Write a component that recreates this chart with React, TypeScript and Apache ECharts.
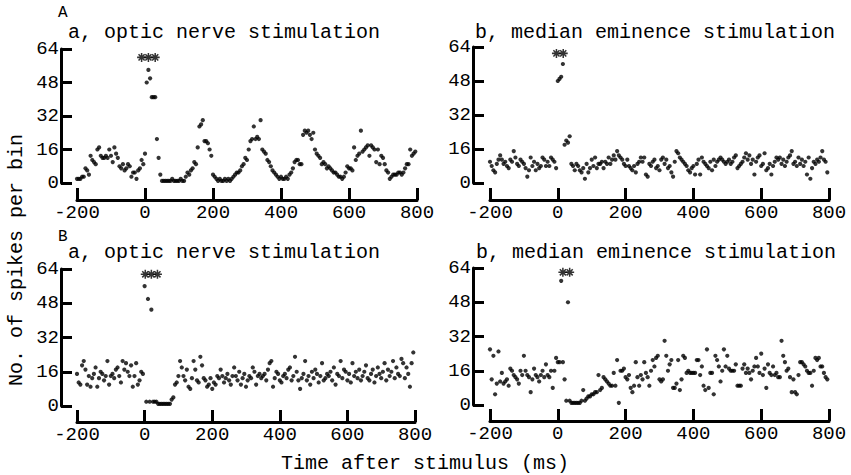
import React, { useEffect, useRef } from "react";
import * as echarts from "echarts";

// ---- data (spikes per 5 ms bin, from -200 ms to 795 ms) ----
const BIN_MS = 5;
const START_MS = -200;
const xTickStep = 200;
const yTickStep = 16;
const xRange = [-200, 800];
const yRange = [0, 64];

const panelTitles = [
  "a, optic nerve stimulation",
  "b, median eminence stimulation",
  "a, optic nerve stimulation",
  "b, median eminence stimulation",
];
const sectionLabels = ["A", "B"];
const yAxisTitle = "No. of spikes per bin";
const xAxisTitle = "Time after stimulus (ms)";

const opticA = [
  2, 2, 2, 3, 3, 7, 6, 4, 13, 11, 10, 9, 16, 17, 13, 12, 12, 13, 12, 16,
  13, 10, 17, 14, 12, 8, 7, 9, 6, 7, 9, 8, 3, 5, 5, 2, 6, 7, 11, 9,
  14, 48, 54, 50, 41, 41, 41, 21, 12, 4, 1, 1, 1, 1, 1, 1, 2, 1, 1, 1,
  1, 2, 1, 1, 3, 5, 4, 6, 7, 10, 9, 17, 27, 28, 30, 20, 20, 19, 16, 13,
  4, 3, 2, 1, 2, 1, 1, 2, 1, 2, 1, 2, 3, 4, 5, 5, 6, 8, 9, 12,
  11, 16, 20, 21, 27, 21, 22, 21, 30, 16, 15, 14, 11, 10, 8, 6, 5, 4, 3, 2,
  3, 2, 2, 3, 2, 4, 5, 7, 10, 11, 11, 9, 9, 23, 25, 24, 25, 23, 21, 24,
  16, 14, 13, 12, 9, 10, 9, 7, 8, 7, 6, 5, 5, 4, 3, 3, 2, 3, 5, 8,
  7, 7, 6, 17, 11, 13, 14, 25, 15, 16, 17, 18, 13, 18, 17, 16, 10, 16, 9, 13,
  12, 9, 6, 5, 2, 3, 4, 4, 4, 5, 5, 4, 5, 7, 9, 9, 16, 13, 14, 15,
];
const medianA = [
  10, 8, 6, 5, 9, 11, 13, 11, 9, 10, 8, 7, 11, 10, 15, 12, 9, 8, 11, 10,
  9, 7, 3, 6, 12, 8, 10, 6, 9, 7, 8, 12, 11, 8, 10, 8, 12, 11, 10, 7,
  48, 49, 50, 56, 18, 20, 19, 22, 9, 8, 6, 9, 8, 6, 5, 7, 2, 9, 5, 7,
  11, 8, 12, 7, 9, 9, 10, 7, 10, 9, 12, 9, 11, 13, 11, 15, 13, 12, 11, 9,
  8, 11, 8, 7, 6, 8, 5, 9, 10, 12, 10, 12, 4, 3, 9, 8, 10, 11, 7, 8,
  6, 11, 12, 9, 11, 7, 8, 5, 3, 10, 15, 14, 12, 11, 10, 9, 8, 6, 5, 7,
  8, 4, 9, 11, 4, 12, 10, 9, 8, 7, 10, 6, 11, 8, 10, 11, 12, 11, 10, 9,
  10, 11, 9, 10, 12, 13, 7, 8, 9, 10, 12, 14, 11, 13, 9, 11, 4, 10, 12, 13,
  8, 9, 14, 6, 7, 9, 4, 8, 10, 12, 11, 12, 9, 11, 8, 10, 12, 13, 15, 9,
  10, 8, 12, 9, 11, 8, 10, 4, 12, 2, 7, 10, 9, 11, 10, 12, 15, 11, 10, 5,
];
const opticB = [
  15, 11, 10, 19, 21, 17, 10, 14, 9, 13, 15, 18, 9, 13, 16, 15, 12, 14, 21, 10,
  14, 15, 13, 17, 18, 14, 11, 21, 17, 20, 16, 14, 19, 9, 14, 20, 10, 12, 16, 15,
  56, 2, 50, 2, 45, 2, 2, 2, 1, 1, 1, 1, 1, 1, 1, 1, 3, 4, 10, 11,
  14, 21, 18, 14, 12, 17, 9, 8, 13, 21, 17, 12, 11, 23, 19, 13, 12, 9, 10, 13,
  8, 11, 10, 14, 13, 17, 14, 11, 13, 15, 12, 10, 14, 18, 14, 12, 16, 10, 13, 15,
  9, 12, 14, 13, 18, 16, 10, 14, 15, 13, 14, 15, 12, 17, 20, 21, 9, 13, 16, 15,
  12, 11, 14, 15, 13, 17, 18, 12, 14, 23, 16, 12, 8, 13, 15, 21, 12, 14, 10, 16,
  13, 17, 15, 11, 14, 20, 12, 13, 15, 14, 16, 12, 18, 10, 15, 14, 21, 13, 17, 16,
  12, 15, 11, 20, 14, 16, 13, 17, 12, 14, 16, 19, 13, 12, 15, 17, 11, 14, 18, 15,
  13, 16, 20, 12, 17, 14, 16, 21, 13, 18, 15, 14, 22, 20, 13, 18, 15, 9, 20, 25,
];
const medianB = [
  26, 12, 23, 5, 10, 25, 11, 15, 10, 11, 12, 9, 17, 16, 14, 13, 12, 10, 16, 14,
  23, 16, 14, 13, 6, 12, 17, 14, 13, 11, 14, 16, 13, 19, 14, 13, 16, 8, 16, 22,
  20, 20, 58, 20, 12, 2, 48, 2, 1, 1, 1, 1, 1, 1, 2, 7, 2, 3, 4, 4,
  5, 5, 6, 6, 14, 7, 8, 13, 12, 11, 10, 9, 9, 15, 9, 21, 1, 16, 16, 17,
  13, 12, 14, 8, 6, 9, 20, 13, 9, 14, 12, 20, 15, 13, 9, 16, 21, 18, 22, 23,
  12, 11, 12, 30, 23, 16, 19, 21, 8, 8, 10, 21, 7, 12, 23, 22, 15, 16, 15, 15,
  15, 15, 21, 21, 14, 18, 9, 7, 26, 8, 15, 15, 5, 23, 21, 18, 11, 16, 26, 18,
  23, 17, 16, 16, 16, 19, 9, 9, 9, 17, 19, 15, 17, 15, 12, 16, 18, 22, 18, 15,
  24, 14, 17, 8, 19, 15, 14, 18, 14, 15, 13, 13, 30, 23, 20, 16, 17, 13, 6, 12,
  6, 5, 14, 20, 20, 19, 18, 16, 15, 15, 9, 16, 22, 21, 22, 18, 18, 15, 13, 12,
];

// off-scale bins (drawn as asterisks near the top of the axis)
const offScaleTimesOpticA = [-10, 10, 30];
const offScaleTimesMedianA = [-4, 16];
const offScaleTimesOpticB = [2, 20, 38];
const offScaleTimesMedianB = [15, 35];
const offScaleLevels = [60, 61, 61.5, 62];

const seriesValues = [opticA, medianA, opticB, medianB];
const offScaleTimes = [offScaleTimesOpticA, offScaleTimesMedianA, offScaleTimesOpticB, offScaleTimesMedianB];

// ---- layout ----
const FONT = '"Liberation Mono", "Courier New", monospace';
const grids = [
  { left: 77, top: 49, width: 340, height: 134, xOff: 17, yOff: 16 },
  { left: 490, top: 47, width: 339, height: 136, xOff: 17, yOff: 17 },
  { left: 77, top: 269, width: 338, height: 137, xOff: 16, yOff: 16 },
  { left: 490, top: 268, width: 339, height: 137, xOff: 16, yOff: 17 },
];
const titlePos = [
  { x: 68, y: 32 },
  { x: 475, y: 32 },
  { x: 68, y: 252 },
  { x: 476, y: 252 },
];
const sectionPos = [
  { x: 58, y: 13 },
  { x: 58, y: 237 },
];

const ASTERISK =
  "path://M8.3 0L11.7 0L11.7 20L8.3 20ZM0 8.3L20 8.3L20 11.7L0 11.7ZM4.4 2L18 15.6L15.6 18L2 4.4ZM15.6 2L18 4.4L4.4 18L2 15.6Z";

export default function App() {
  const ref = useRef<HTMLDivElement>(null);

  useEffect(() => {
    if (!ref.current) return;
    const chart = echarts.init(ref.current, null, { renderer: "svg" });

    const grid = grids.map((g) => ({
      left: g.left,
      top: g.top,
      width: g.width,
      height: g.height,
      containLabel: false,
    }));

    const xAxis = grids.map((g, i) => ({
      type: "value",
      gridIndex: i,
      min: xRange[0],
      max: xRange[1],
      interval: xTickStep,
      offset: g.xOff,
      splitLine: { show: false },
      axisLine: { show: true, onZero: false, lineStyle: { color: "#000", width: 3 } },
      axisTick: { show: true, inside: true, length: 12, lineStyle: { color: "#000", width: 3 } },
      axisLabel: { color: "#000", fontFamily: FONT, fontSize: 19, margin: 3 },
    }));

    const yAxis = grids.map((g, i) => ({
      type: "value",
      gridIndex: i,
      min: yRange[0],
      max: yRange[1],
      interval: yTickStep,
      offset: g.yOff,
      splitLine: { show: false },
      axisLine: { show: true, onZero: false, lineStyle: { color: "#000", width: 3 } },
      axisTick: { show: true, inside: true, length: 11, lineStyle: { color: "#000", width: 3 } },
      axisLabel: { color: "#000", fontFamily: FONT, fontSize: 19, margin: 2 },
    }));

    const series: any[] = [];
    seriesValues.forEach((vals, i) => {
      series.push({
        type: "scatter",
        xAxisIndex: i,
        yAxisIndex: i,
        symbol: "circle",
        symbolSize: 4.2,
        itemStyle: { color: "#000" },
        data: vals.map((v, k) => [START_MS + k * BIN_MS, v]),
        silent: true,
      });
      series.push({
        type: "scatter",
        xAxisIndex: i,
        yAxisIndex: i,
        symbol: ASTERISK,
        symbolSize: 9,
        itemStyle: { color: "#000" },
        data: offScaleTimes[i].map((t) => [t, offScaleLevels[i]]),
        silent: true,
      });
    });

    const graphic: any[] = [];
    panelTitles.forEach((t, i) => {
      graphic.push({
        type: "text",
        x: titlePos[i].x,
        y: titlePos[i].y,
        style: {
          text: t,
          font: `20px ${FONT}`,
          fill: "#000",
          textAlign: "left",
          verticalAlign: "middle",
        },
      });
    });
    sectionLabels.forEach((t, i) => {
      graphic.push({
        type: "text",
        x: sectionPos[i].x,
        y: sectionPos[i].y,
        style: {
          text: t,
          font: `16px ${FONT}`,
          fill: "#000",
          textAlign: "left",
          verticalAlign: "middle",
        },
      });
    });
    graphic.push({
      type: "text",
      x: 16,
      y: 260,
      rotation: Math.PI / 2,
      style: {
        text: yAxisTitle,
        font: `20px ${FONT}`,
        fill: "#000",
        textAlign: "center",
        verticalAlign: "middle",
      },
    });
    graphic.push({
      type: "text",
      x: 425,
      y: 463,
      style: {
        text: xAxisTitle,
        font: `20px ${FONT}`,
        fill: "#000",
        textAlign: "center",
        verticalAlign: "middle",
      },
    });

    chart.setOption({
      animation: false,
      backgroundColor: "#fff",
      grid,
      xAxis,
      yAxis,
      series,
      graphic,
    });

    return () => chart.dispose();
  }, []);

  return (
    <div
      ref={ref}
      style={{ position: "fixed", left: 0, top: 0, width: 851, height: 475, background: "#fff" }}
    />
  );
}
